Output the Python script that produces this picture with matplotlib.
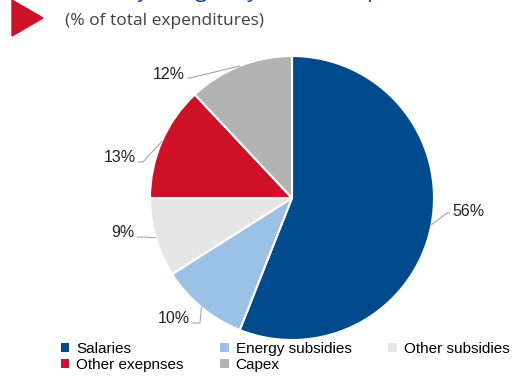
import matplotlib
matplotlib.use('Agg')
import matplotlib.pyplot as plt
from matplotlib.patches import Patch, Polygon
import numpy as np

labels = ['Salaries', 'Energy subsidies', 'Other subsidies', 'Other exepnses', 'Capex']
values = [56, 10, 9, 13, 12]
colors = ['#004B8D', '#9BC2E6', '#E6E6E6', '#CE1126', '#B3B3B3']

# label layout (data units, radius 1): elbow point, text anchor
elbows = [(1.092, -0.106), (-0.648, -0.880), (-1.070, -0.275), (-1.049, 0.254), (-0.718, 0.845)]
text_pos = [(1.127, -0.092), (-0.718, -0.852), (-1.106, -0.246), (-1.099, 0.282), (-0.754, 0.873)]

plt.rcParams['font.family'] = ['Liberation Sans', 'DejaVu Sans']

W, H = 523, 376
fig = plt.figure(figsize=(W / 100, H / 100), dpi=100)

cx, cy, r = 292, 198, 142
ax = fig.add_axes([(cx - r) / W, (H - cy - r) / H, 2 * r / W, 2 * r / H])

wedges, _ = ax.pie(values, colors=colors, startangle=90, counterclock=False, radius=1,
                   wedgeprops=dict(edgecolor='white', linewidth=1.5))
ax.set_xlim(-1, 1)
ax.set_ylim(-1, 1)
ax.axis('off')

total = float(sum(values))
start = 90.0
for v, (ex, ey), (tx, ty) in zip(values, elbows, text_pos):
    mid = np.deg2rad(start - v / total * 360 / 2)
    start -= v / total * 360
    px, py = np.cos(mid), np.sin(mid)
    ha = 'left' if tx > ex else 'right'
    endx = tx - 0.02 if ha == 'left' else tx + 0.02
    ax.plot([px, ex, endx], [py, ey, ey], color='#A6A6A6', lw=0.8, clip_on=False)
    ax.text(tx, ty, f'{v}%', ha=ha, va='center', fontsize=11.5, color='#222222')

# red triangle marker and header
tri = Polygon([[12 / W, 1 - 0 / H], [12 / W, 1 - 36 / H], [43 / W, 1 - 18 / H]],
              closed=True, transform=fig.transFigure, color='#CE1126')
fig.patches.append(tri)
fig.text(65 / W, 1 + 3 / H, 'Ministry budget by item of expenditure', color='#0B4F9C',
         fontsize=16, va='baseline', ha='left', family=['Open Sans', 'DejaVu Sans'])
fig.text(65 / W, 1 - 21 / H, '(% of total expenditures)', color='#404040',
         fontsize=12.5, va='center', ha='left', family=['Open Sans', 'DejaVu Sans'])

order = [0, 3, 1, 4, 2]
handles = [Patch(facecolor=colors[i], edgecolor='none') for i in order]
fig.legend(handles, [labels[i] for i in order], ncol=3, loc='upper left',
           bbox_to_anchor=(61 / W, 1 - 342 / H), frameon=False, fontsize=11,
           handlelength=0.55, handleheight=0.55, handletextpad=0.45,
           columnspacing=2.4, labelspacing=0.15, borderpad=0, borderaxespad=0)

fig.savefig('out.png', dpi=100)
